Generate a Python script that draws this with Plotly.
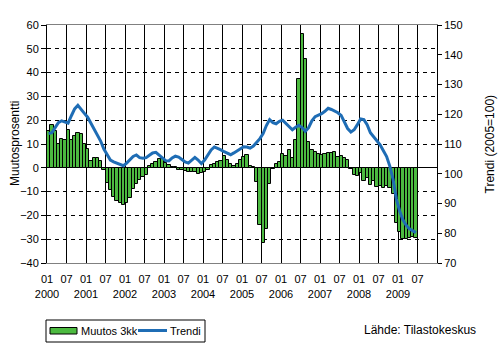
import plotly.graph_objects as go

# Monthly data, 2000-01 ... 2009-06
change_3m = [
    # 2000
    15.4, 17.9, 15.4, 10.1, 12.2, 11.6, 16.0, 11.8, 13.4, 14.7, 14.0, 9.9,
    # 2001
    8.0, 2.9, 4.2, 4.2, 2.9, -1.0, -6.4, -9.5, -12.4, -14.0, -14.9, -15.8,
    # 2002
    -14.8, -12.8, -9.0, -7.0, -5.0, -3.7, -3.0, 0.9, 1.6, 2.6, 3.6, 3.9,
    # 2003
    2.1, 1.2, 0.5, 0.2, -1.1, -1.0, -1.2, -1.6, -1.7, -1.8, -2.4, -2.1,
    # 2004
    -1.6, -0.9, 1.1, 1.6, 2.3, 2.8, 5.1, 3.4, 1.7, 0.8, 1.5, 3.3,
    # 2005
    4.5, 5.4, 0.7, 0.3, -6.0, -24.0, -31.5, -25.7, -7.0, -0.5, 1.8, 2.5,
    # 2006
    5.9, 5.0, 7.6, 4.2, 11.7, 37.3, 56.2, 45.7, 11.0, 7.6, 6.6, 6.0,
    # 2007
    5.5, 5.6, 6.1, 6.3, 6.5, 4.5, 5.1, 4.0, 3.2, -0.7, -3.1, -3.4,
    # 2008
    -2.0, -5.6, -4.1, -7.4, -5.4, -8.0, -7.5, -8.5, -7.5, -8.5, -11.0, -23.0,
    # 2009
    -27.0, -30.0, -29.8, -29.5, -29.2, -29.7,
]

trend = [
    # 2000
    113.5, 113.8, 115.5, 117.2, 117.8, 117.3, 117.0, 119.5, 121.8, 123.0, 121.8, 120.3,
    # 2001
    119.0, 117.0, 115.0, 113.2, 111.0, 108.3, 106.3, 104.6, 104.0, 103.5, 103.0, 102.7,
    # 2002
    103.6, 104.6, 105.8, 106.3, 105.4, 105.2, 105.4, 106.2, 107.0, 107.2, 106.3, 105.2,
    # 2003
    104.4, 104.3, 105.3, 105.9, 105.6, 104.8, 104.0, 103.6, 104.4, 105.5, 104.6, 103.4,
    # 2004
    104.6, 106.2, 108.0, 109.0, 108.6, 108.0, 107.4, 106.8, 106.4, 107.0, 107.8, 108.5,
    # 2005
    109.1, 109.0, 108.6, 109.3, 110.4, 111.8, 113.5, 116.2, 118.2, 117.2, 116.8, 117.6,
    # 2006
    118.0, 117.0, 115.8, 114.8, 115.6, 116.3, 115.5, 114.3, 115.5, 117.8, 119.2, 119.6,
    # 2007
    120.2, 121.0, 122.0, 121.6, 121.0, 120.5, 119.6, 117.5, 115.2, 114.0, 114.8, 116.5,
    # 2008
    118.4, 118.2, 116.5, 113.8, 112.4, 111.0, 109.7, 107.7, 105.8, 102.5, 98.0, 91.5,
    # 2009
    87.5, 84.5, 82.7, 81.5, 80.8, 80.2,
]

tick_years = list(range(2000, 2010))
tick_months = ["01", "07"]

n = len(change_3m)
x_mid = [i + 0.5 for i in range(n)]  # month centres on a month-index axis

tickvals, ticktext = [], []
for k, yr in enumerate(tick_years):
    for j, mm in enumerate(tick_months):
        tickvals.append(k * 12 + j * 6)
        ticktext.append(f"{mm}<br>{yr}" if mm == "01" else mm)

FONT = "Liberation Sans, Arial, sans-serif"
GREEN = "#4cba40"
BLUE = "#1f6db5"

W, H = 503, 346
ML, MR, MT, MB = 47, 66, 25, 83
PW, PH = W - ML - MR, H - MT - MB


def px(x):
    """Horizontal pixel -> paper coordinate."""
    return (x - ML) / PW


def py(y):
    """Vertical pixel (from top) -> paper coordinate."""
    return 1 - (y - MT) / PH


fig = go.Figure()
fig.add_trace(go.Bar(
    x=x_mid, y=change_3m, name="Muutos 3kk",
    marker=dict(color=GREEN, line=dict(color="black", width=1)),
    width=1.0, showlegend=False,
))
fig.add_trace(go.Scatter(
    x=x_mid, y=trend, name="Trendi", yaxis="y2",
    mode="lines", line=dict(color=BLUE, width=3), showlegend=False,
))

# Legend box drawn below the plot area
legend_shapes = [
    dict(type="rect", xref="paper", yref="paper",
         x0=px(46), x1=px(205), y0=py(342), y1=py(320),
         line=dict(color="black", width=1), fillcolor="white"),
    dict(type="rect", xref="paper", yref="paper",
         x0=px(50), x1=px(77), y0=py(334), y1=py(327.5),
         line=dict(color="black", width=1), fillcolor=GREEN),
    dict(type="line", xref="paper", yref="paper",
         x0=px(138), x1=px(167), y0=py(330.5), y1=py(330.5),
         line=dict(color=BLUE, width=3)),
]
legend_texts = [
    dict(text="Muutos 3kk", xref="paper", yref="paper", x=px(78.5), y=py(331),
         xanchor="left", yanchor="middle", showarrow=False, font=dict(size=11)),
    dict(text="Trendi", xref="paper", yref="paper", x=px(167.5), y=py(331),
         xanchor="left", yanchor="middle", showarrow=False, font=dict(size=11)),
]

fig.update_layout(
    width=W, height=H,
    margin=dict(l=ML, r=MR, t=MT, b=MB, autoexpand=False),
    paper_bgcolor="white", plot_bgcolor="white",
    font=dict(family=FONT, size=11, color="black"),
    bargap=0,
    showlegend=False,
    xaxis=dict(
        range=[0, 120], tickmode="array", tickvals=tickvals, ticktext=ticktext,
        showgrid=True, gridcolor="black", gridwidth=1,
        showline=True, linecolor="#808080", linewidth=1, mirror=True,
        ticks="", zeroline=False, tickangle=0, automargin=False,
        ticklabelstandoff=6,
    ),
    yaxis=dict(
        range=[-40, 60], dtick=10, tick0=0,
        showgrid=True, gridcolor="black", gridwidth=1, griddash="4px,4px",
        zeroline=True, zerolinecolor="black", zerolinewidth=1,
        showline=True, linecolor="black", linewidth=1,
        ticks="outside", ticklen=5, tickcolor="black", automargin=False,
    ),
    yaxis2=dict(
        overlaying="y", side="right", range=[70, 150], dtick=10, tick0=70,
        showgrid=False, zeroline=False,
        showline=True, linecolor="black", linewidth=1,
        ticks="outside", ticklen=4, tickcolor="black", automargin=False,
    ),
    shapes=legend_shapes,
    annotations=[
        dict(text="Muutosprosentti", textangle=-90, xref="paper", yref="paper",
             x=px(15), y=0.5, xanchor="center", yanchor="middle",
             showarrow=False, font=dict(size=12)),
        dict(text="Trendi (2005=100)", textangle=-90, xref="paper", yref="paper",
             x=px(489.5), y=0.5, xanchor="center", yanchor="middle",
             showarrow=False, font=dict(size=12)),
        dict(text="Lähde: Tilastokeskus", xref="paper", yref="paper",
             x=px(478), y=py(330), xanchor="right", yanchor="middle",
             showarrow=False, font=dict(size=12)),
    ] + legend_texts,
)

fig.write_html("out.html")
